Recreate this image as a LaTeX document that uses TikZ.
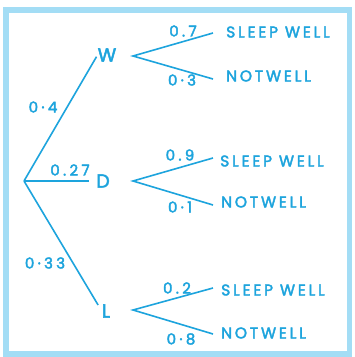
\documentclass[tikz,border=0pt]{standalone}
\usepackage{fontspec}
\setmainfont{Poppins}
\newfontfamily\hand{Poppins}[LetterSpace=18, FakeBold=2.5]
\newfontfamily\handnum{Poppins}[LetterSpace=22, FakeBold=2.5]
\definecolor{ink}{HTML}{1DA4DD}
\definecolor{framec}{HTML}{A3DDF5}
\tikzset{
  branch/.style={draw=ink, line width=1.6pt},
  letter/.style={text=ink, inner sep=0pt, font=\hand\fontsize{19}{19}\selectfont},
  prob/.style={text=ink, inner sep=0pt, font=\handnum\fontsize{15}{15}\selectfont},
  leaf/.style={text=ink, inner sep=0pt, anchor=west, font=\hand\fontsize{15.5}{15.5}\selectfont},
}
\begin{document}
\begin{tikzpicture}[x=1pt,y=-1pt]
\useasboundingbox (0,0) rectangle (355,357);
\fill[white] (0,0) rectangle (355,357);
\draw[framec, line width=5.5pt] (6,10) rectangle (349.5,354);

\coordinate (root) at (24,181);
\node[letter] (W) at (107,55) {W};
\node[letter] (D) at (103,181) {D};
\node[letter] (L) at (106,311) {L};

\draw[branch, shorten >=2pt] (root) -- (W.west);
\draw[branch, shorten >=7pt] (root) -- (D.west);
\draw[branch, shorten >=7pt] (root) -- (L.west);

\node[prob] (p04) at (43,107) {0·4};
\node[prob] (p027) at (70,170) {0.27};
\node[prob] (p033) at (45,263) {0·33};

% W branch
\coordinate (Wf) at (133,56);
\coordinate (Wse) at (213,33);
\coordinate (Wne) at (213,79);
\draw[branch] (Wse) -- (Wf) -- (Wne);
\node[prob] (p07) at (183,31) {0.7};
\node[prob] (p03) at (182,80) {0·3};
\node[leaf] (Ws) at (226,32) {SLEEP WELL};
\node[leaf] (Wn) at (226,76) {NOTWELL};

% D branch
\coordinate (Df) at (133,181);
\coordinate (Dse) at (213,158);
\coordinate (Dne) at (213,205);
\draw[branch] (Dse) -- (Df) -- (Dne);
\node[prob] (p09) at (180,155) {0.9};
\node[prob] (p01) at (180,207) {0·1};
\node[leaf] (Ds) at (220,161) {SLEEP WELL};
\node[leaf] (Dn) at (221,202) {NOTWELL};

% L branch
\coordinate (Lf) at (133,310);
\coordinate (Lse) at (213,288);
\coordinate (Lne) at (213,334);
\draw[branch] (Lse) -- (Lf) -- (Lne);
\node[prob] (p02) at (177,288) {0.2};
\node[prob] (p08) at (181,339) {0·8};
\node[leaf] (Ls) at (221,290) {SLEEP WELL};
\node[leaf] (Ln) at (221,333) {NOTWELL};
\end{tikzpicture}
\end{document}
